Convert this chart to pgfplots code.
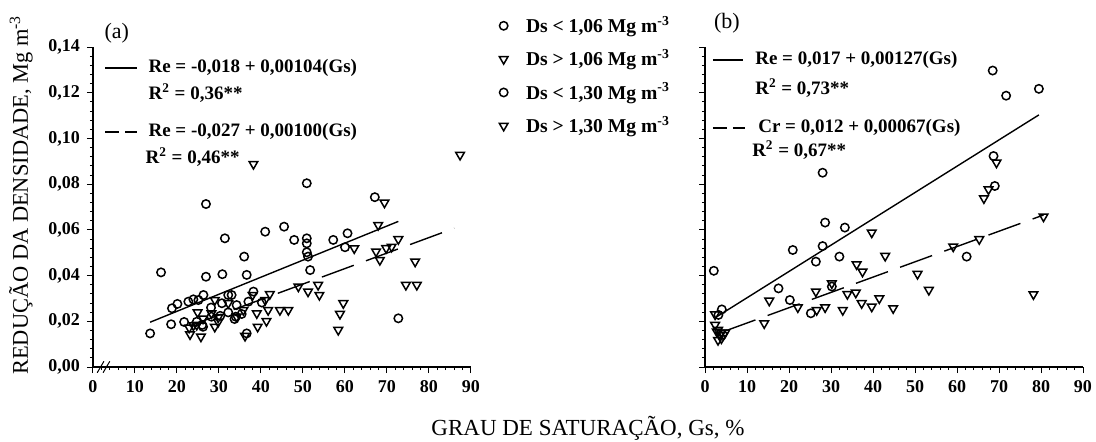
\documentclass[border=0pt]{standalone}
\usepackage{pgfplots}
\pgfplotsset{compat=1.18}
\usepackage{pgfplotstable}
\usepackage{fontspec}
\setmainfont{Liberation Serif}

\pgfplotstableread{
x y
13.6 0.0147
16.2 0.0414
18.6 0.0187
18.8 0.0257
20.1 0.0276
21.7 0.0197
22.7 0.0286
23.9 0.0296
25.1 0.0293
26.3 0.0315
26.9 0.0713
26.9 0.0395
24.7 0.0198
26.2 0.0176
28.1 0.0260
28.2 0.0220
30.8 0.0406
31.4 0.0563
30.7 0.0279
32.2 0.0315
33.0 0.0315
32.2 0.0239
34.0 0.0220
34.2 0.0271
36.0 0.0483
36.6 0.0403
36.6 0.0147
37.0 0.0286
38.2 0.0330
41.0 0.0592
40.2 0.0282
45.5 0.0614
47.9 0.0556
50.9 0.0804
50.9 0.0563
50.9 0.0541
50.9 0.0502
51.2 0.0483
51.7 0.0424
57.2 0.0556
60.6 0.0585
60.0 0.0524
67.1 0.0743
72.7 0.0213
26.0 0.0184
30.3 0.0224
33.7 0.0210
35.4 0.0232
}\leftcirc

\pgfplotstableread{
x y
38.2 0.0888
69.4 0.0719
67.9 0.0621
62.2 0.0519
67.4 0.0505
68.3 0.0468
69.8 0.0520
71.1 0.0526
72.7 0.0559
76.7 0.0461
74.5 0.0359
77.1 0.0359
87.4 0.0928
48.9 0.0352
51.2 0.0330
53.6 0.0359
53.9 0.0315
59.6 0.0279
58.8 0.0232
58.4 0.0162
46.5 0.0249
44.5 0.0249
42.1 0.0319
41.3 0.0201
41.7 0.0249
41.0 0.0293
39.0 0.0235
39.2 0.0176
38.0 0.0315
36.2 0.0136
35.8 0.0249
34.2 0.0220
32.2 0.0279
29.8 0.0197
29.0 0.0293
28.2 0.0235
26.2 0.0212
25.7 0.0133
24.9 0.0239
24.7 0.0184
23.1 0.0143
22.9 0.0172
23.9 0.0182
29.0 0.0176
29.8 0.0217
}\lefttri

\pgfplotstableread{
x y
28.0 0.0850
28.6 0.0632
33.3 0.0610
20.9 0.0512
28.0 0.0529
26.4 0.0461
32.0 0.0483
2.1 0.0421
17.5 0.0344
20.2 0.0293
25.2 0.0235
30.2 0.0352
4.0 0.0252
3.2 0.0228
68.7 0.0923
69.0 0.0792
62.3 0.0483
68.5 0.1297
71.7 0.1187
79.5 0.1217
}\rightcirc

\pgfplotstableread{
x y
69.4 0.0894
67.5 0.0777
66.4 0.0738
80.6 0.0658
65.3 0.0559
59.1 0.0527
42.9 0.0486
50.6 0.0407
53.3 0.0337
78.2 0.0318
44.8 0.0257
41.5 0.0300
39.7 0.0588
36.1 0.0449
37.5 0.0417
30.2 0.0366
33.9 0.0319
35.9 0.0325
37.3 0.0279
39.7 0.0264
32.8 0.0249
28.6 0.0261
26.6 0.0249
26.4 0.0330
22.1 0.0261
15.3 0.0290
14.1 0.0191
2.4 0.0184
3.1 0.0162
3.5 0.0140
3.9 0.0125
2.8 0.0155
4.4 0.0140
3.1 0.0118
2.4 0.0230
3.9 0.0150
4.8 0.0150
}\righttri

\pgfplotsset{
  myaxis/.style={
    scale only axis, width=189pt, height=160pt,
    xmin=0, xmax=90, ymin=0, ymax=0.14,
    axis lines=left, axis line style={-, line width=0.6pt},
    xtick={0,10,20,30,40,50,60,70,80,90},
    ytick={0,0.02,0.04,0.06,0.08,0.1,0.12,0.14},
    minor x tick num=4, minor y tick num=4,
    tick align=outside, major tick length=3pt, minor tick length=1.6pt,
    tick style={line width=0.5pt, black},
    clip=false,
    /pgf/number format/assume math mode=true,
    ticklabel style={font=\bfseries\fontsize{9}{10}\selectfont},
    yticklabel style={/pgf/number format/.cd, fixed, fixed zerofill, precision=2, use comma},
    scaled y ticks=false,
  },
  circ/.style={only marks, mark=o, mark size=2.1pt, mark options={line width=0.75pt, draw=black}},
  tri/.style={only marks, mark=triangle, mark size=2.5pt, mark options={rotate=180, line width=0.75pt, draw=black}},
  fitsolid/.style={black, line width=0.7pt, no marks},
  fitdash/.style={black, line width=0.7pt, no marks, dash pattern=on 17pt off 6.5pt},
}

\begin{document}
\begin{tikzpicture}[x=1pt,y=1pt]
\useasboundingbox (0,0) rectangle (548,220.5);

% ---------- panel (a) ----------
\begin{axis}[myaxis, at={(46.5pt,37pt)}, anchor=south west,
  ylabel={REDUÇÃO DA DENSIDADE, Mg m\textsuperscript{-3}},
  ylabel style={at={(rel axis cs:0,0.5)}, anchor=center, rotate=0, yshift=36pt, xshift=6pt, font=\fontsize{11.2}{12}\selectfont},
  xlabel={GRAU DE SATURAÇÃO, Gs, \%},
  xlabel style={at={(rel axis cs:0,0)}, anchor=center, xshift=247.5pt, yshift=-30.5pt, font=\fontsize{11.5}{12}\selectfont},
]
\addplot[circ, forget plot] table[x=x,y=y] {\leftcirc};
\addplot[tri, forget plot] table[x=x,y=y] {\lefttri};
\addplot[fitsolid, forget plot] coordinates {(13.6,0.0196) (72.7,0.0637)};
\addplot[fitdash, forget plot] coordinates {(23,0.0180) (86,0.0607)};
% axis break
\draw[line width=0.5pt] (axis cs:1.0,-0.0025) -- (axis cs:2.6,0.0025);
\draw[line width=0.5pt] (axis cs:2.4,-0.0025) -- (axis cs:4.0,0.0025);
\node[font=\fontsize{11}{12}\selectfont] at (rel axis cs:0.063,1.044) {(a)};
\draw[line width=0.7pt] (rel axis cs:0.032,0.934) -- (rel axis cs:0.116,0.934);
\node[anchor=west, font=\bfseries\fontsize{9.5}{10}\selectfont, inner sep=0pt] at (rel axis cs:0.146,0.934) {Re = -0,018 + 0,00104(Gs)};
\node[anchor=west, font=\bfseries\fontsize{9.5}{10}\selectfont, inner sep=0pt] at (rel axis cs:0.146,0.856) {R\textsuperscript{2} = 0,36**};
\draw[line width=0.7pt, dash pattern=on 7pt off 3pt] (rel axis cs:0.032,0.734) -- (rel axis cs:0.116,0.734);
\node[anchor=west, font=\bfseries\fontsize{9.5}{10}\selectfont, inner sep=0pt] at (rel axis cs:0.146,0.734) {Re = -0,027 + 0,00100(Gs)};
\node[anchor=west, font=\bfseries\fontsize{9.5}{10}\selectfont, inner sep=0pt] at (rel axis cs:0.138,0.656) {R\textsuperscript{2} = 0,46**};
\end{axis}

% ---------- panel (b) ----------
\begin{axis}[myaxis, at={(352.5pt,37pt)}, anchor=south west,
  yticklabels={},
  legend style={draw=none, fill=none, at={(rel axis cs:-0.561,0.91)}, anchor=west,
    row sep=3pt, column sep=7pt, font=\bfseries\fontsize{9.8}{11}\selectfont},
  legend cell align=left,
]
\addlegendimage{circ}
\addlegendentry{Ds < 1,06 Mg m\textsuperscript{-3}}
\addlegendimage{tri}
\addlegendentry{Ds > 1,06 Mg m\textsuperscript{-3}}
\addlegendimage{circ}
\addlegendentry{Ds < 1,30 Mg m\textsuperscript{-3}}
\addlegendimage{tri}
\addlegendentry{Ds > 1,30 Mg m\textsuperscript{-3}}
\addplot[circ, forget plot] table[x=x,y=y] {\rightcirc};
\addplot[tri, forget plot] table[x=x,y=y] {\righttri};
\addplot[fitsolid, forget plot] coordinates {(2.8,0.022) (79.5,0.1103)};
\addplot[fitdash, forget plot] coordinates {(4.4,0.0155) (80.6,0.0665)};
\node[font=\fontsize{11}{12}\selectfont] at (rel axis cs:0.058,1.075) {(b)};
\draw[line width=0.7pt] (rel axis cs:0.021,0.959) -- (rel axis cs:0.101,0.959);
\node[anchor=west, font=\bfseries\fontsize{9.5}{10}\selectfont, inner sep=0pt] at (rel axis cs:0.132,0.959) {Re = 0,017 + 0,00127(Gs)};
\node[anchor=west, font=\bfseries\fontsize{9.5}{10}\selectfont, inner sep=0pt] at (rel axis cs:0.132,0.872) {R\textsuperscript{2} = 0,73**};
\draw[line width=0.7pt, dash pattern=on 7pt off 3pt] (rel axis cs:0.021,0.747) -- (rel axis cs:0.105,0.747);
\node[anchor=west, font=\bfseries\fontsize{9.5}{10}\selectfont, inner sep=0pt] at (rel axis cs:0.140,0.747) {Cr = 0,012 + 0,00067(Gs)};
\node[anchor=west, font=\bfseries\fontsize{9.5}{10}\selectfont, inner sep=0pt] at (rel axis cs:0.124,0.678) {R\textsuperscript{2} = 0,67**};
\end{axis}
\end{tikzpicture}
\end{document}
